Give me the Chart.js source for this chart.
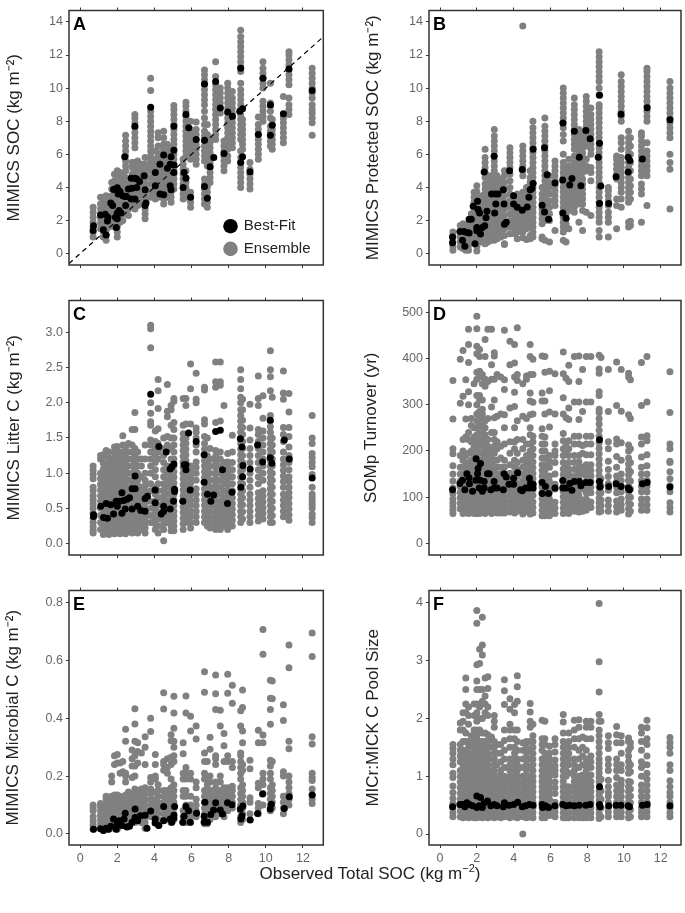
<!DOCTYPE html>
<html>
<head>
<meta charset="utf-8">
<title>MIMICS ensemble</title>
<script src="https://cdn.jsdelivr.net/npm/chart.js@4/dist/chart.umd.min.js"></script>
<style>
    html, body { margin: 0; padding: 0; background: #fff; }
    #page { position: relative; width: 685px; height: 913px; overflow: hidden; }
    canvas { position: absolute; }
    #x-title { position: absolute; left: 170px; width: 400px; top: 864px; text-align: center;
        font: 17px "Liberation Sans", Arial, sans-serif; color: #222; }
    #x-title sup { font-size: 11px; line-height: 0; }
</style>
</head>
<body>
<div id="page">
    <canvas id="panel-a" width="335" height="290" style="left:0;top:0"></canvas>
    <canvas id="panel-b" width="340" height="290" style="left:345px;top:0"></canvas>
    <canvas id="panel-c" width="335" height="290" style="left:0;top:290px"></canvas>
    <canvas id="panel-d" width="340" height="290" style="left:345px;top:290px"></canvas>
    <canvas id="panel-e" width="335" height="290" style="left:0;top:580px"></canvas>
    <canvas id="panel-f" width="340" height="290" style="left:345px;top:580px"></canvas>
    <div id="x-title">Observed Total SOC (kg m<sup>−2</sup>)</div>
</div>
<script>
// observed SOC of each ensemble column, shared by all panels
const ensembleX = [0.7,1.1,1.25,1.4,1.55,1.7,1.85,2.0,2.15,2.3,2.45,2.6,2.8,2.95,3.1,3.3,3.5,3.8,4.05,4.2,4.5,4.7,4.9,5.05,5.55,5.7,5.95,6.25,6.7,6.85,7.0,7.3,7.55,7.75,7.95,8.2,8.65,8.75,9.15,9.6,9.85,10.25,10.35,10.95,11.25,12.5];

const xTicks = [0, 2, 4, 6, 8, 10, 12];
const oneToOne = [[-0.6, -0.6], [13.1, 13.1]];

const bestA = [[0.7,1.4],[0.72,1.68],[1.1,2.33],[1.25,1.44],[1.35,2.37],[1.4,1.12],[1.5,2.2],[1.47,1.97],[1.65,3.05],[1.75,2.9],[1.8,3.88],[1.9,2.2],[1.95,1.58],[2.0,2.45],[2.0,2.1],[2.0,3.98],[2.05,3.6],[2.1,2.6],[2.15,3.75],[2.2,2.45],[2.3,3.5],[2.4,3.45],[2.4,5.85],[2.45,2.9],[2.5,3.45],[2.6,3.9],[2.75,3.3],[2.8,3.95],[2.75,4.55],[2.95,4.55],[2.95,7.7],[2.95,3.3],[3.05,4.0],[3.05,4.5],[3.2,4.35],[3.45,4.7],[3.5,2.9],[3.5,3.85],[3.55,3.05],[3.8,8.85],[4.05,4.9],[4.05,4.1],[4.3,5.4],[4.3,3.6],[4.5,3.55],[4.5,5.95],[4.7,5.15],[4.85,5.4],[4.85,4.1],[4.9,3.85],[4.9,5.85],[5.05,5.35],[5.05,4.9],[5.05,6.25],[5.05,7.7],[5.6,4.9],[5.55,4.0],[5.7,4.55],[5.7,8.4],[5.85,7.6],[5.95,3.4],[6.25,6.9],[6.7,10.25],[6.7,6.85],[6.7,4.05],[6.85,3.35],[7.0,5.25],[7.2,5.8],[7.3,10.4],[7.55,8.8],[7.75,6.05],[7.95,8.55],[8.2,8.3],[8.6,8.6],[8.65,11.2],[8.65,5.5],[8.75,8.75],[8.75,5.85],[9.15,4.95],[9.6,7.2],[9.85,10.6],[10.25,9.0],[10.25,7.15],[10.35,7.75],[10.95,8.45],[11.25,11.15],[12.5,9.85]];
const bestB = [[0.68,1.0],[0.68,0.65],[1.08,1.34],[1.22,0.8],[1.35,0.45],[1.3,1.34],[1.46,1.28],[1.58,1.24],[1.58,2.07],[1.7,2.07],[1.8,2.86],[1.9,0.6],[2,1.38],[2,1.58],[2.04,3.16],[2.07,2.66],[2.15,2.46],[2.2,1.18],[2.3,1.58],[2.4,4.93],[2.43,1.68],[2.5,2.17],[2.55,2.56],[2.8,3.6],[2.94,5.88],[2.97,2.46],[3.03,3.0],[3,3.6],[3.15,3.6],[3.44,3.85],[3.48,3.0],[3.5,1.78],[3.6,1.9],[3.78,5.0],[4,3.5],[4,3.0],[4.2,2.8],[4.47,2.62],[4.47,5.08],[4.74,2.82],[4.83,3.4],[4.9,3.85],[5,3.94],[5.06,4.24],[5.06,6.3],[5.55,2.92],[5.68,2.52],[5.68,6.4],[5.82,4.77],[5.9,2.07],[6.25,4.26],[6.67,4.44],[6.67,2.46],[6.68,7.89],[6.85,2.13],[7.05,4.14],[7.17,4.54],[7.3,7.4],[7.57,5.82],[7.66,4.1],[7.93,7.44],[8.16,6.94],[8.67,9.57],[8.67,6.67],[8.6,5.82],[8.74,4.08],[8.67,3.02],[9.17,3.02],[9.57,4.64],[9.84,8.42],[10.23,4.93],[10.23,5.82],[10.32,5.62],[11,5.72],[11.26,8.82],[12.5,8.09]];
const bestC = [[0.72,0.41],[0.72,0.385],[1.11,0.53],[1.26,0.37],[1.4,0.57],[1.47,0.36],[1.65,0.55],[1.8,0.42],[1.94,0.6],[2,0.53],[2.12,0.6],[2.25,0.72],[2.25,0.43],[2.34,0.61],[2.43,0.49],[2.52,0.63],[2.66,0.65],[2.8,0.49],[2.8,0.78],[2.96,0.78],[2.96,0.96],[3.1,0.53],[3.27,0.47],[3.5,0.46],[3.5,0.64],[3.63,0.67],[3.8,2.12],[4.04,0.76],[4.04,0.58],[4.24,1.38],[4.37,0.42],[4.5,0.53],[4.5,0.46],[4.64,1.3],[4.85,1.06],[4.85,0.49],[4.94,1.09],[5.05,1.13],[5.03,0.6],[5.09,0.77],[5.09,0.74],[5.53,0.6],[5.6,1.12],[5.7,1.12],[5.7,1.05],[5.84,1.57],[5.93,0.76],[6.25,1.45],[6.68,1.26],[6.68,0.87],[6.86,0.7],[7.04,0.6],[7.19,0.69],[7.3,1.59],[7.55,1.61],[7.67,1.05],[7.94,0.57],[8.18,0.73],[8.63,1.49],[8.72,1.37],[8.77,1.11],[8.75,0.95],[8.66,0.8],[9.16,1.06],[9.56,1.4],[9.83,1.16],[10.24,1.75],[10.24,1.22],[10.33,1.14],[11,1.47],[11.27,1.2],[12.5,0.93]];
const bestD = [[0.68,116],[1.08,130],[1.22,137],[1.35,116],[1.46,151],[1.58,142],[1.6,129],[1.77,113],[1.95,137],[1.96,183],[2.07,162],[2.04,151],[2.2,173],[2.18,137],[2.13,120],[2.3,113],[2.4,134],[2.4,120],[2.58,151],[2.67,151],[2.76,116],[2.94,134],[2.94,120],[3.1,120],[3.44,116],[3.48,151],[3.6,144],[3.75,128],[4,141],[4,128],[4.22,153],[4.38,116],[4.47,114],[4.65,120],[4.83,120],[4.86,141],[4.92,130],[5.06,128],[5.06,120],[5.55,132],[5.55,108],[5.73,123],[5.9,108],[6.25,120],[6.67,136],[6.67,120],[6.85,120],[7.05,130],[7.17,115],[7.3,134],[7.57,134],[7.66,125],[7.93,132],[8.16,132],[8.67,224],[8.67,134],[8.7,122],[9.17,123],[9.57,129],[9.84,123],[10.23,120],[10.3,116],[11,129],[11.26,132],[12.5,122]];
const bestE = [[0.72,0.016],[1.1,0.018],[1.26,0.012],[1.4,0.02],[1.53,0.016],[1.65,0.027],[1.8,0.052],[1.94,0.016],[2,0.035],[2.12,0.046],[2.25,0.029],[2.37,0.052],[2.43,0.072],[2.52,0.024],[2.66,0.027],[2.8,0.041],[2.96,0.086],[2.96,0.057],[3.1,0.046],[3.25,0.063],[3.5,0.065],[3.6,0.02],[3.8,0.079],[4.04,0.052],[4.04,0.038],[4.24,0.029],[4.5,0.046],[4.5,0.095],[4.85,0.052],[4.94,0.041],[5.05,0.065],[5.09,0.095],[5.05,0.055],[5.53,0.041],[5.6,0.061],[5.7,0.095],[5.84,0.08],[5.93,0.041],[6.27,0.072],[6.68,0.061],[6.72,0.11],[6.68,0.041],[6.86,0.041],[7.04,0.067],[7.19,0.083],[7.3,0.108],[7.55,0.083],[7.67,0.069],[7.94,0.108],[8.18,0.101],[8.63,0.086],[8.66,0.052],[8.77,0.097],[8.72,0.063],[9.16,0.048],[9.56,0.071],[9.83,0.138],[10.24,0.086],[10.3,0.103],[11,0.088],[11.27,0.129],[12.5,0.135]];
const bestF = [[0.68,0.47],[1.08,0.51],[1.22,0.51],[1.35,0.47],[1.46,0.54],[1.6,0.51],[1.77,0.49],[2,0.66],[2,0.46],[2.13,0.49],[2.2,0.63],[2.3,0.46],[2.4,0.54],[2.58,0.57],[2.76,0.49],[2.94,0.51],[3.1,0.49],[3.44,0.47],[3.5,0.54],[3.75,0.5],[4,0.51],[4.22,0.55],[4.47,0.47],[4.65,0.49],[4.86,0.51],[5.06,0.5],[5.55,0.51],[5.58,0.46],[5.73,0.49],[5.9,0.46],[6.25,0.49],[6.67,0.51],[6.85,0.49],[7.05,0.5],[7.3,0.49],[7.57,0.5],[7.93,0.5],[8.16,0.51],[8.67,0.82],[8.67,0.51],[8.7,0.47],[9.17,0.49],[9.57,0.5],[9.84,0.5],[10.23,0.49],[10.3,0.47],[11,0.5],[11.26,0.51],[12.5,0.49]];

const ensembleA = [
/*0.7*/[1.0,1.3,1.6,1.9,2.2,2.5,2.8],
/*1.1*/[1.5,1.8,2.1,2.4,2.7,3.0,3.4],
/*1.25*/[1.0,1.3,1.6,2.0,2.3,2.6,2.9,3.1,3.4],
/*1.4*/[0.8,1.1,1.4,1.7,2.0,2.3,2.6,2.9,3.2,3.5],
/*1.55*/[1.6,1.9,2.2,2.5,2.8,3.1,3.4],
/*1.7*/[1.7,2.0,2.3,2.6,2.9,3.2,3.5,3.9,4.3],
/*1.85*/[1.6,1.9,2.2,2.5,2.8,3.1,3.4,3.7,4.0,4.4,4.8],
/*2.0*/[1.0,1.3,1.6,1.9,2.2,2.5,2.8,3.1,3.4,3.7,4.0,4.3,4.6,5.0],
/*2.15*/[1.9,2.3,2.7,3.1,3.5,3.9,4.3,4.6,4.9],
/*2.3*/[2.0,2.4,2.8,3.2,3.6,4.0,4.4,4.7],
/*2.45*/[2.4,2.7,3.0,3.3,3.6,3.9,4.2,4.6,5.0,5.3,5.6,5.9,6.2,6.5,6.8,7.15],
/*2.6*/[2.3,2.7,3.1,3.5,3.9,4.2],
/*2.8*/[2.8,3.2,3.6,4.0,4.4,4.8,5.2,5.5],
/*2.95*/[2.7,3.0,3.3,3.6,3.9,4.2,4.5,4.9,5.2,5.5,6.4,6.7,7.0,7.3,7.6,7.9,8.2,8.4],
/*3.1*/[2.9,3.3,3.7,4.1,4.5,4.9,5.3,5.6],
/*3.3*/[3.0,3.4,3.8,4.2,4.6,5.0,5.4],
/*3.5*/[2.1,2.4,2.7,3.0,3.3,3.6,3.9,4.2,4.5,4.8,5.1,5.4,5.8],
/*3.8*/[3.4,3.8,4.2,4.6,5.0,5.3,5.6,5.9,6.2,6.5,6.8,7.1,7.4,7.7,8.0,8.3,8.6,9.85,10.6],
/*4.05*/[3.3,3.6,3.9,4.2,4.5,4.8,5.1,5.4,5.7,6.2],
/*4.2*/[3.4,3.7,4.0,4.3,4.6,4.9,5.2,5.5,5.8,6.1,6.5,7.0,7.3],
/*4.5*/[3.0,3.3,3.6,3.9,4.2,4.5,4.8,5.1,5.4,5.7,6.0,6.3,6.6,7.0,7.4],
/*4.7*/[3.4,3.8,4.2,4.6,5.0,5.4,5.8,6.2,6.6],
/*4.9*/[3.1,3.4,3.7,4.0,4.3,4.6,4.9,5.2,5.5,5.8,6.1,6.4],
/*5.05*/[3.9,4.2,4.5,4.8,5.1,5.4,5.7,6.0,6.3,6.6,6.9,7.2,7.5,7.8,8.1,8.4,8.7,8.95],
/*5.55*/[3.3,3.6,3.9,4.2,4.5,4.8,5.1,5.4,5.7],
/*5.7*/[3.4,3.7,4.0,4.3,4.6,5.0,5.9,6.2,6.5,6.8,7.1,7.4,7.7,8.0,8.3,8.6,8.9,9.15],
/*5.95*/[2.8,3.1,3.4,3.7,5.7,6.0,6.3,6.6,6.9,7.2,7.5,8.0],
/*6.25*/[5.4,5.7,6.0,6.3,6.6,6.9,7.2,7.5,7.95],
/*6.7*/[3.0,3.3,3.6,3.9,4.2,4.5,5.6,5.9,6.2,6.5,6.8,7.1,7.4,7.8,8.2,8.6,9.0,9.3,9.6,9.9,10.2,10.5,10.8,11.1],
/*6.85*/[2.8,3.1,3.4,3.7,4.0,4.2,5.3,5.7,6.1,6.5,6.9,7.2,7.8],
/*7.0*/[4.3,4.6,4.9,5.2,5.5,5.8,6.1,6.4,6.7,7.0],
/*7.3*/[6.9,7.2,7.5,7.8,8.1,8.4,8.7,9.0,9.3,9.6,9.9,10.2,10.7,11.6],
/*7.55*/[8.5,8.8,9.1,9.4,9.7,10.0],
/*7.75*/[5.0,5.3,5.6,5.9,6.2,6.5,6.8],
/*7.95*/[5.6,5.9,6.3,6.7,7.0,7.3,7.6,7.9,8.2,8.5,8.8,9.1,9.4,9.7,10.0,10.3],
/*8.2*/[6.4,6.7,7.0,7.3,7.6,7.9,8.2,8.5,8.8,9.1,9.4,9.8],
/*8.65*/[4.0,4.3,4.6,4.9,5.2,5.5,5.8,6.2,6.9,7.2,7.5,7.8,8.1,8.4,8.7,9.0,9.3,9.6,9.9,10.3,11.0,11.3,11.6,11.9,12.2,12.5,12.8,13.1,13.5],
/*8.75*/[6.3,6.6,6.9,7.2,7.5,7.8,8.1],
/*9.15*/[3.9,4.2,4.5,4.8,5.1,5.5],
/*9.6*/[5.7,6.0,6.3,6.6,6.9,7.2,7.5,7.8,8.25],
/*9.85*/[8.0,8.3,8.6,8.9,9.2,10.0,10.3,10.6,10.9,11.2,11.6],
/*10.25*/[6.5,6.8,7.1,7.4,7.7,8.2,8.6,8.9,9.1,10.3],
/*10.35*/[6.3,6.6,6.9,7.2,7.5,7.8,8.1],
/*10.95*/[6.7,7.0,7.3,7.6,7.9,8.2,8.4,9.5],
/*11.25*/[8.4,8.7,9.0,9.4,10.2,10.5,10.8,11.1,11.4,11.7,12.0,12.2],
/*12.5*/[7.15,7.9,8.2,8.5,8.7,9.0,9.4,9.7,10.0,10.3,10.6,10.9,11.2]
];

const ensembleB = [
/*0.7*/[0.2,0.45,0.7,0.95,1.1,1.3],
/*1.1*/[0.4,0.7,1.0,1.3,1.7],
/*1.25*/[0.3,0.6,0.9,1.2,1.5,1.8],
/*1.4*/[0.2,0.5,0.8,1.1,1.4,1.75],
/*1.55*/[0.2,0.5,0.8,1.1,1.4,1.7],
/*1.7*/[0.9,1.2,1.5,1.8,2.1,2.4],
/*1.85*/[0.7,1.0,1.3,1.6,1.9,2.2,2.5,2.8,3.1,3.4,3.7],
/*2.0*/[0.15,0.45,0.75,1.05,1.35,1.65,1.95,2.25,2.55,2.85,3.15,3.45,3.75,4.1],
/*2.15*/[0.7,1.0,1.3,1.6,1.9,2.2,2.5,2.8,3.1,3.4],
/*2.3*/[0.7,1.0,1.3,1.6,1.9,2.2,2.5,2.8,3.2,3.5],
/*2.45*/[0.6,0.9,1.2,1.5,1.8,2.1,2.4,2.7,3.0,3.3,3.6,3.9,4.2,4.6,4.9,5.2,5.5,5.8,6.3],
/*2.6*/[0.7,1.0,1.3,1.6,1.9,2.2,2.5,2.8,3.1,3.4,3.7,4.0,4.3,4.7],
/*2.8*/[0.8,1.1,1.4,1.7,2.0,2.3,2.6,2.9,3.2,3.5,3.8,4.1,4.4,4.7],
/*2.95*/[0.8,1.1,1.4,1.7,2.0,2.3,2.6,2.9,3.2,3.5,3.8,4.1,4.4,4.7,5.0,5.3,5.6,5.9,6.2,6.5,6.8,7.1,7.5],
/*3.1*/[0.9,1.3,1.7,2.1,2.5,2.9,3.3,3.7,4.1,4.4,4.7],
/*3.3*/[1.0,1.4,1.8,2.2,2.6,3.0,3.4,3.8,4.2,4.5],
/*3.5*/[0.55,0.6,1.1,1.5,1.9,2.3,2.7,3.1,3.5,3.9,4.3,4.7,5.0],
/*3.8*/[1.2,1.6,2.0,2.4,2.8,3.2,3.6,4.0,4.4,4.8,5.2,5.5,5.8,6.1,6.4],
/*4.05*/[1.2,1.5,1.8,2.1,2.4,2.7,3.0,3.3,3.5],
/*4.2*/[0.9,1.3,1.6,1.9,2.2,2.5,2.8,3.1,3.4,3.6],
/*4.5*/[0.95,1.3,1.6,1.9,2.2,2.5,2.8,3.1,3.4,3.7,4.7,5.0,5.3,5.6,5.9,6.2,6.5,13.75],
/*4.7*/[0.85,1.5,1.8,2.1,2.4,2.7,3.0,3.3,3.6,4.0],
/*4.9*/[0.9,1.1,1.6,1.9,2.2,2.5,2.8,3.1,3.4,3.7,4.0,4.3,4.6,5.0],
/*5.05*/[1.0,1.3,1.6,1.9,2.2,2.5,2.8,3.1,3.4,3.7,4.0,4.3,4.6,4.9,5.2,5.5,5.8,6.1,6.4,6.7,7.0,7.3,7.6,8.0],
/*5.55*/[0.9,1.0,1.8,2.1,2.4,2.7,3.0,3.3,3.6,4.0],
/*5.7*/[0.8,2.0,2.3,2.6,2.9,3.2,3.5,3.8,4.1,4.4,4.7,5.0,5.3,5.6,5.9,6.2,6.5,6.8,7.1,7.4,7.7,8.2],
/*5.95*/[0.7,2.0,2.4,2.8,3.2,3.6,4.0,4.3,4.7],
/*6.25*/[1.4,2.9,3.2,3.5,3.8,4.1,4.4,4.7,5.0,5.3,5.6],
/*6.7*/[0.8,1.3,1.6,1.9,2.2,2.5,2.8,3.1,3.4,3.7,4.0,4.3,4.6,4.9,5.2,5.5,6.0,6.8,7.2,7.6,7.9,8.2,8.5,8.8,9.1,9.4,9.7,10.0],
/*6.85*/[0.7,1.5,1.8,2.1,2.4,2.7,3.0],
/*7.0*/[1.5,2.6,2.9,3.2,3.5,3.8,4.1,4.4,4.7,5.0,5.3,5.7],
/*7.3*/[2.5,2.8,3.1,3.4,3.7,4.0,4.3,4.6,4.9,5.2,5.5,5.9,6.3,6.6,6.9,7.2,7.5,7.8,8.1,8.4,8.7,9.0,9.4],
/*7.55*/[1.9,3.0,3.3,3.6,3.9,4.2,4.5,4.8,5.1,5.4,5.7,6.0,6.3,6.6,6.9,7.2,7.5],
/*7.75*/[1.4,2.6,3.0,3.3,3.6,3.9,4.2,4.5,4.9,5.2,5.5,5.8,6.1,6.4,6.7,7.0,7.4],
/*7.95*/[2.5,5.0,5.3,5.7,6.5,6.8,7.1,7.4,7.7,8.0,8.3,8.6,8.9,9.2,9.5],
/*8.2*/[2.3,4.4,4.9,5.2,6.0,6.3,6.6,6.9,7.2,7.5,7.8,8.1,8.4,8.8],
/*8.65*/[1.0,1.4,1.9,2.2,2.5,2.8,3.1,3.4,3.7,4.0,4.3,4.6,4.9,5.2,5.5,5.8,6.1,6.4,6.7,7.0,7.3,7.6,7.9,8.2,8.5,8.8,9.0,9.6,10.0,10.4,10.7,11.0,11.3,11.6,11.9,12.2],
/*8.75*/[],
/*9.15*/[1.0,1.9,2.2,2.5,2.9,3.2,3.5,3.8,4.0],
/*9.6*/[1.5,2.9,3.3,4.5,4.8,5.1,5.4,5.7,5.9],
/*9.85*/[2.8,3.3,3.7,4.0,4.3,4.6,4.9,5.2,5.5,5.8,6.3,6.7,7.0,8.0,8.3,8.6,8.9,9.2,9.5,9.8,10.1,10.4,10.8],
/*10.25*/[1.6,1.9,3.1,3.4,3.7,4.0,4.3,4.6,4.9,5.2,5.5,5.8,6.1,6.4,6.7,7.0,7.4],
/*10.35*/[1.7,1.95,3.3,3.7,4.1,4.5,5.0,5.5,6.0,6.5,7.0],
/*10.95*/[1.9,3.6,3.9,4.2,4.7,5.0,5.3,5.6,5.9,6.2,6.5,6.8,7.1,7.3],
/*11.25*/[2.9,4.7,5.0,5.3,5.6,5.9,6.2,6.7,8.0,8.3,8.6,8.9,9.2,9.5,9.8,10.1,10.4,10.7,11.0,11.2],
/*12.5*/[2.7,5.1,5.5,6.0,7.0,7.3,7.6,7.9,8.2,8.5,8.8,9.1,9.4,9.7,10.0,10.4]
];

const ensembleC = [
/*0.7*/[0.15,0.19,0.24,0.3,0.36,0.43,0.5,0.56,0.62,0.68,0.75,0.8,0.92,0.98,1.04,1.1],
/*1.1*/[0.2,0.3,0.4,0.5,0.6,0.68,0.76,0.84,0.92,1.0,1.2,1.25],
/*1.25*/[0.13,0.2,0.27,0.34,0.42,0.5,0.58,0.66,0.74,0.82,0.9,0.98,1.06,1.14,1.22,1.26],
/*1.4*/[0.25,0.35,0.45,0.55,0.65,0.75,0.85,0.95,1.1,1.32],
/*1.55*/[0.13,0.2,0.27,0.34,0.42,0.5,0.58,0.66,0.74,0.82,0.9,0.98,1.06,1.14,1.22,1.3],
/*1.7*/[0.3,0.4,0.5,0.6,0.7,0.8,0.9,1.0,1.1,1.2],
/*1.85*/[0.14,0.21,0.28,0.35,0.42,0.5,0.58,0.66,0.74,0.82,0.9,0.98,1.06,1.14,1.22,1.3,1.37],
/*2.0*/[0.2,0.3,0.4,0.5,0.6,0.7,0.8,0.9,1.0,1.1,1.2,1.3,1.38],
/*2.15*/[0.14,0.21,0.28,0.35,0.42,0.5,0.58,0.66,0.74,0.82,0.9,0.98,1.06,1.14,1.22,1.3],
/*2.3*/[0.2,0.3,0.4,0.5,0.6,0.7,0.8,0.9,1.0,1.1,1.2,1.3,1.4,1.53],
/*2.45*/[0.14,0.21,0.28,0.35,0.42,0.5,0.58,0.66,0.74,0.82,0.9,0.98,1.06,1.14,1.22,1.3,1.38],
/*2.6*/[0.2,0.3,0.4,0.5,0.6,0.7,0.8,0.9,1.0,1.1,1.2,1.3,1.42],
/*2.8*/[0.15,0.22,0.29,0.36,0.43,0.5,0.58,0.66,0.74,0.82,0.9,1.0,1.1,1.2,1.3,1.4,1.62],
/*2.95*/[0.2,0.3,0.4,0.5,0.6,0.7,0.85,0.95,1.05,1.15,1.25,1.35,1.62,1.86],
/*3.1*/[0.15,0.22,0.29,0.36,0.43,0.5,0.58,0.66,0.74,0.82,0.9,1.0,1.1,1.2,1.3],
/*3.3*/[0.2,0.3,0.4,0.5,0.6,0.7,0.8,0.95,1.1,1.2],
/*3.5*/[0.15,0.22,0.29,0.36,0.43,0.5,0.58,0.66,0.74,0.82,0.9,1.0,1.2,1.4],
/*3.8*/[0.3,0.4,0.5,0.6,0.75,0.85,1.0,1.1,1.2,1.3,1.4,1.47,1.68,1.73,1.85,2.0,2.78,3.05,3.1],
/*4.05*/[0.2,0.28,0.36,0.44,0.52,0.6,0.7,0.8,0.95,1.05,1.15,1.25,1.35,1.45,1.6],
/*4.2*/[0.15,0.25,0.35,0.45,0.55,0.65,0.75,0.85,1.2,1.3,1.42,1.63,1.92,2.17,2.33],
/*4.5*/[0.04,0.2,0.28,0.36,0.44,0.52,0.6,0.68,0.76,0.85,0.95,1.05,1.15,1.25,1.35,1.5],
/*4.7*/[0.3,0.4,0.5,0.6,0.7,0.8,0.9,1.0,1.1,1.4,1.52,1.8,1.88,2.26],
/*4.9*/[0.18,0.25,0.32,0.39,0.46,0.54,0.62,0.7,0.78,0.86,0.94,1.2,1.35,1.5,1.68,1.9,1.96],
/*5.05*/[0.18,0.25,0.32,0.39,0.46,0.54,0.62,0.7,0.78,0.86,0.94,1.02,1.1,1.2,1.3,1.4,1.5,1.62,1.72,2.02,2.06],
/*5.55*/[0.2,0.28,0.36,0.44,0.52,0.6,0.68,0.76,0.84,0.92,1.0,1.08,1.16,1.24,1.32,1.4,1.48,1.56,1.68,2.06],
/*5.7*/[0.3,0.38,0.46,0.54,0.62,0.7,0.78,0.86,0.94,1.02,1.1,1.18,1.26,1.34,1.42,1.5,1.7,1.96,2.06],
/*5.95*/[0.22,0.3,0.38,0.46,0.54,0.62,0.7,0.78,0.86,0.94,1.02,1.1,1.7,2.2,2.55],
/*6.25*/[0.3,0.38,0.46,0.54,0.62,0.7,0.78,0.9,1.0,1.08,1.16,1.3,1.4,1.5,1.58,1.64,2.0,2.05,2.42],
/*6.7*/[0.3,0.38,0.46,0.54,0.62,0.7,0.78,0.94,1.02,1.1,1.18,1.34,1.42,1.52,1.7,1.76,2.18,2.22],
/*6.85*/[0.25,0.33,0.41,0.49,0.57,0.65,0.75,0.85,0.95,1.05,1.15,1.25,1.5],
/*7.0*/[0.22,0.3,0.38,0.46,0.54,0.62,0.72,0.8,0.9,1.0,1.1,1.2,1.35],
/*7.3*/[0.2,0.28,0.36,0.44,0.52,0.6,0.68,0.76,0.84,0.92,1.0,1.08,1.16,1.24,1.32,1.72,2.22,2.3,2.58],
/*7.55*/[0.2,0.28,0.36,0.44,0.52,0.6,0.7,0.8,0.9,1.0,1.1,1.2,1.3,1.74,2.25,2.3,2.58],
/*7.75*/[0.25,0.33,0.41,0.49,0.57,0.65,0.75,0.85,0.95,1.15,1.96],
/*7.95*/[0.2,0.28,0.36,0.44,0.52,0.6,0.68,0.76,0.84,0.92,1.0,1.08,1.16,1.28],
/*8.2*/[0.25,0.33,0.41,0.49,0.57,0.65,0.75,0.85,0.95,1.05,1.15,1.3,1.54],
/*8.65*/[0.3,0.38,0.46,0.54,0.62,0.7,0.78,0.86,0.94,1.02,1.1,1.18,1.26,1.34,1.42,1.5,1.58,1.66,1.74,1.82,1.9,2.0,2.08,2.2,2.33,2.47],
/*8.75*/[0.35,0.45,0.55,0.65,0.75,0.85,0.95,1.05,1.15,1.25,1.35,1.45,1.55,1.65,1.75,1.9,2.05],
/*9.15*/[0.3,0.38,0.46,0.54,0.62,0.7,0.8,0.9,1.0,1.15,1.25,1.35,1.47,1.64,1.98],
/*9.6*/[0.32,0.4,0.48,0.56,0.64,0.72,0.85,0.95,1.05,1.15,1.25,1.35,1.45,1.55,1.62,1.96,2.06,2.38],
/*9.85*/[0.35,0.43,0.51,0.59,0.67,0.75,0.9,1.0,1.1,1.2,1.3,1.4,1.5,1.6,1.78,2.1],
/*10.25*/[0.3,0.38,0.46,0.54,0.62,0.7,0.78,0.86,0.94,1.02,1.1,1.18,1.26,1.34,1.42,1.5,1.58,1.66,1.74,1.82,2.17,2.37,2.47,2.74],
/*10.35*/[0.3,0.4,0.5,0.6,0.7,0.8,0.9,1.0,1.1,1.2,1.3,1.4,1.5,2.08],
/*10.95*/[0.38,0.46,0.54,0.62,0.7,0.8,0.88,0.96,1.04,1.12,1.2,1.3,1.45,1.55,1.65,2.05,2.14,2.45],
/*11.25*/[0.33,0.41,0.49,0.57,0.65,0.72,0.8,0.88,0.95,1.05,1.15,1.25,1.37,1.52,1.65,1.87,2.13],
/*12.5*/[0.3,0.37,0.42,0.5,0.55,0.6,0.65,0.7,0.8,0.98,1.09,1.15,1.22,1.28,1.42,1.5,1.82]
];

const ensembleD = [
/*0.7*/[65,72,80,88,96,108,120,135,150,168,194,205,269,352],
/*1.1*/[75,87,99,111,123,135,150,165,190,303,398],
/*1.25*/[65,78,90,102,114,126,138,150,165,180,200,225,318,417],
/*1.4*/[70,82,94,106,118,130,142,154,170,190,230,269,354],
/*1.55*/[65,77,89,101,113,125,137,149,161,175,195,225,240,300,328,391,430,463],
/*1.7*/[70,82,94,106,118,130,142,154,166,180,200,220,255,270],
/*1.85*/[65,77,89,101,113,125,137,149,161,175,190,210,230,250,345],
/*2.0*/[65,75,85,95,105,115,125,135,145,155,165,175,190,205,220,235,250,265,280,300,320,355,370,410,426,464,491],
/*2.15*/[65,78,90,102,114,126,138,150,165,180,195,210,225,240,255,270,285,310,320,360,372,404,419],
/*2.3*/[70,82,94,106,118,130,142,154,166,180,195,210,225,240,255,270,280,290,310,345,365],
/*2.45*/[65,77,89,101,113,125,137,149,161,175,190,205,220,235,250,265,340,355,404,441],
/*2.6*/[70,82,94,106,118,130,142,154,166,180,195,210,225,270,350,463],
/*2.8*/[65,77,89,101,113,125,137,149,161,175,190,205,240,295,355,386,463],
/*2.95*/[70,82,94,106,118,130,142,154,166,180,195,210,225,240,272,310,355,405,412],
/*3.1*/[66,78,90,102,114,126,138,150,165,180,205,220,275,365],
/*3.3*/[66,78,90,102,114,126,138,150,165,185,210,280,360],
/*3.5*/[66,78,90,102,114,126,138,150,165,180,215,250,278,333,354,461],
/*3.8*/[68,80,92,104,116,128,140,152,170,195,220,293,386,437],
/*4.05*/[66,78,90,102,114,126,138,150,165,180,205,220,250,296,327,360,390,430],
/*4.2*/[70,82,94,106,118,130,145,160,175,195,225,265,352,365,466],
/*4.5*/[64,76,88,100,112,124,136,150,165,180,205,225,275,345],
/*4.7*/[70,82,94,106,118,130,145,160,175,190,215,270,355,362],
/*4.9*/[64,76,88,100,112,124,136,148,160,172,185,200,215,235,250,278,308,325,365,404,430],
/*5.05*/[66,78,90,104,116,128,140,152,164,176,190,205,220,232,280,305,365,398],
/*5.55*/[60,72,84,96,110,122,134,146,158,170,185,200,215,232,248,308,325,405],
/*5.7*/[60,72,84,96,110,122,134,146,158,170,185,200,215,230,280,308,370,404],
/*5.95*/[60,72,84,96,110,122,134,146,165,178,190,252,284,330,372],
/*6.25*/[65,77,89,118,128,150,175,190,200,215,280,367],
/*6.7*/[65,77,89,101,113,125,137,149,161,175,190,205,222,238,280,315,367,414],
/*6.85*/[68,80,92,104,116,128,140,155,170,200,215,272,357],
/*7.0*/[65,77,89,101,113,125,137,149,161,175,190,205,222,268,293,350,385],
/*7.3*/[70,82,94,106,118,130,145,160,175,190,215,232,306,404],
/*7.55*/[68,80,92,104,116,128,140,152,164,176,190,215,232,268,306,350,405],
/*7.75*/[70,82,94,118,130,150,165,195,212,285,376],
/*7.95*/[72,84,96,110,122,134,146,158,170,192,215,232,306,404],
/*8.2*/[78,90,110,122,134,146,158,170,192,215,232,306,404],
/*8.65*/[68,78,88,98,110,122,134,146,158,170,182,194,206,218,232,245,258,270,283,290,320,328,368,377,407],
/*8.75*/[70,82,94,110,125,140,402],
/*9.15*/[70,82,94,115,130,145,160,178,205,220,285,376],
/*9.6*/[68,80,92,110,122,134,146,165,188,215,226,298,392],
/*9.85*/[72,84,96,112,124,136,150,180,218,286,376],
/*10.25*/[64,76,88,100,112,124,136,148,160,172,185,200,213,278,360,368],
/*10.35*/[70,85,100,118,135,155,175,205,270,354],
/*10.95*/[72,84,96,112,124,136,150,165,187,215,230,298,391],
/*11.25*/[72,84,96,112,124,136,150,168,192,222,233,306,404],
/*12.5*/[68,78,88,112,125,140,155,175,178,205,215,283,371]
];

const ensembleE = [
/*0.7*/[0.016,0.03,0.045,0.06,0.08,0.09,0.1],
/*1.1*/[0.02,0.035,0.05,0.065,0.08,0.095,0.105],
/*1.25*/[0.012,0.028,0.044,0.06,0.076,0.09],
/*1.4*/[0.02,0.04,0.06,0.08,0.1,0.12,0.13],
/*1.55*/[0.016,0.034,0.052,0.07,0.088,0.105,0.125],
/*1.7*/[0.03,0.05,0.07,0.09,0.11,0.13,0.18,0.2],
/*1.85*/[0.02,0.04,0.06,0.08,0.1,0.12,0.135,0.24,0.27],
/*2.0*/[0.016,0.035,0.055,0.075,0.095,0.115,0.135,0.245,0.275],
/*2.15*/[0.03,0.05,0.07,0.09,0.11,0.13,0.21,0.245],
/*2.3*/[0.03,0.05,0.07,0.09,0.11,0.125,0.215,0.25],
/*2.45*/[0.03,0.05,0.07,0.09,0.11,0.135,0.18,0.2,0.21,0.32,0.362],
/*2.6*/[0.03,0.05,0.07,0.09,0.11,0.13,0.145],
/*2.8*/[0.04,0.06,0.08,0.1,0.12,0.14,0.195,0.235,0.26,0.29],
/*2.95*/[0.04,0.06,0.08,0.1,0.12,0.14,0.155,0.2,0.235,0.27,0.32,0.38,0.433],
/*3.1*/[0.05,0.07,0.09,0.11,0.13,0.15,0.245,0.285,0.315],
/*3.3*/[0.04,0.06,0.08,0.1,0.12,0.14,0.155,0.28],
/*3.5*/[0.02,0.04,0.06,0.08,0.1,0.12,0.14,0.16,0.24,0.3,0.336],
/*3.8*/[0.06,0.08,0.1,0.12,0.14,0.155,0.18,0.195,0.354,0.4],
/*4.05*/[0.04,0.06,0.08,0.1,0.12,0.145,0.19,0.2,0.24,0.275],
/*4.2*/[0.03,0.05,0.07,0.09,0.11,0.13,0.15,0.17],
/*4.5*/[0.05,0.07,0.09,0.11,0.13,0.15,0.22,0.24,0.25,0.432,0.488],
/*4.7*/[0.05,0.07,0.09,0.11,0.13,0.15,0.21,0.23,0.26],
/*4.9*/[0.04,0.06,0.08,0.1,0.12,0.14,0.16,0.19,0.24,0.265,0.322,0.343],
/*5.05*/[0.05,0.07,0.09,0.11,0.13,0.15,0.17,0.25,0.27,0.3,0.32,0.365,0.418,0.476],
/*5.55*/[0.04,0.06,0.08,0.13,0.15,0.19,0.21,0.277,0.315],
/*5.7*/[0.04,0.06,0.08,0.1,0.13,0.15,0.19,0.21,0.23,0.418,0.477],
/*5.95*/[0.04,0.06,0.08,0.1,0.13,0.19,0.21,0.356,0.407],
/*6.25*/[0.06,0.08,0.1,0.12,0.16,0.18,0.328,0.373],
/*6.7*/[0.035,0.05,0.07,0.09,0.11,0.13,0.15,0.19,0.21,0.25,0.28,0.49,0.56],
/*6.85*/[0.035,0.055,0.08,0.1,0.12,0.15,0.17,0.195,0.25],
/*7.0*/[0.05,0.07,0.09,0.11,0.13,0.15,0.18,0.2,0.293,0.334],
/*7.3*/[0.06,0.08,0.1,0.12,0.14,0.16,0.18,0.24,0.26,0.27,0.43,0.484,0.549],
/*7.55*/[0.07,0.09,0.11,0.13,0.15,0.18,0.2,0.373,0.427],
/*7.75*/[0.06,0.08,0.1,0.12,0.14,0.16,0.25,0.305,0.347],
/*7.95*/[0.08,0.1,0.12,0.14,0.16,0.25,0.27,0.486,0.552],
/*8.2*/[0.09,0.11,0.13,0.15,0.165,0.23,0.25,0.452,0.514],
/*8.65*/[0.04,0.06,0.08,0.1,0.12,0.14,0.16,0.19,0.21,0.23,0.25,0.27,0.28,0.373,0.426],
/*8.75*/[0.05,0.07,0.09,0.11,0.13,0.15,0.17,0.22,0.24,0.315,0.356,0.437,0.497],
/*9.15*/[0.05,0.07,0.11,0.125,0.225,0.255],
/*9.6*/[0.07,0.09,0.105,0.16,0.175,0.315,0.358],
/*9.85*/[0.1,0.14,0.17,0.19,0.21,0.315,0.342,0.621,0.706],
/*10.25*/[0.08,0.1,0.12,0.14,0.16,0.19,0.21,0.235,0.255,0.379,0.43,0.469,0.531],
/*10.35*/[0.09,0.11,0.13,0.15,0.17,0.25,0.467,0.528],
/*10.95*/[0.07,0.09,0.11,0.13,0.2,0.215,0.392,0.446],
/*11.25*/[0.1,0.12,0.14,0.16,0.18,0.2,0.294,0.32,0.574,0.653],
/*12.5*/[0.105,0.12,0.135,0.155,0.185,0.195,0.21,0.311,0.336,0.613,0.694]
];

const ensembleF = [
/*0.7*/[0.3,0.37,0.45,0.53,0.62,0.72,0.83,0.98,1.05,1.2,1.3,1.4,1.48,1.55],
/*1.1*/[0.3,0.4,0.5,0.6,0.7,0.8,0.9,1.0,1.1,1.25,1.35,1.45,1.55,1.8,1.92],
/*1.25*/[0.28,0.37,0.46,0.55,0.64,0.73,0.82,0.91,1.0,1.1,1.2,1.3,1.45,1.6,1.8,1.95,2.1],
/*1.4*/[0.3,0.4,0.5,0.6,0.7,0.8,0.9,1.0,1.2,1.4,1.6,1.75,2.1,2.25,2.5,2.7],
/*1.55*/[0.28,0.37,0.46,0.55,0.64,0.73,0.82,0.91,1.0,1.1,1.2,1.3,1.4,1.5,1.6,1.9,2.05,2.2],
/*1.7*/[0.3,0.4,0.5,0.6,0.7,0.8,0.9,1.0,1.1,1.3,1.5,1.7],
/*1.85*/[0.28,0.37,0.46,0.55,0.64,0.73,0.82,0.91,1.0,1.1,1.2,1.3,1.4,1.5,1.6,1.7,1.8,2.05,2.25],
/*2.0*/[0.28,0.36,0.44,0.52,0.6,0.68,0.76,0.84,0.92,1.0,1.1,1.2,1.3,1.4,1.5,1.6,1.7,1.8,1.95,2.1,2.25,2.5,2.65,2.93,3.65,3.87],
/*2.15*/[0.3,0.4,0.5,0.6,0.7,0.8,0.9,1.0,1.2,1.4,1.6,1.8,2.0,2.2,2.5,2.95,3.2],
/*2.3*/[0.28,0.37,0.46,0.55,0.64,0.73,0.82,0.91,1.0,1.1,1.2,1.3,1.4,1.5,1.6,1.75,2.0,2.3,2.5,3.1,3.27,3.75],
/*2.45*/[0.3,0.4,0.5,0.6,0.7,0.8,0.9,1.0,1.15,1.3,1.45,1.6,1.75,2.1,2.25,2.39,2.7],
/*2.6*/[0.28,0.37,0.46,0.55,0.64,0.73,0.82,0.91,1.0,1.1,1.2,1.3,1.4,1.5,1.6,1.72,2.05,2.2,2.52,2.72],
/*2.8*/[0.3,0.4,0.5,0.6,0.7,0.8,0.9,1.0,1.1,1.3,1.5,1.68],
/*2.95*/[0.28,0.37,0.46,0.55,0.64,0.73,0.82,0.91,1.0,1.1,1.2,1.3,1.4,1.5,1.6,1.85,1.95,2.05],
/*3.1*/[0.3,0.4,0.5,0.6,0.7,0.8,0.9,1.0,1.2,1.4,1.55],
/*3.3*/[0.28,0.37,0.46,0.55,0.64,0.73,0.82,0.91,1.0,1.1,1.25,1.4,1.55],
/*3.5*/[0.3,0.4,0.5,0.6,0.7,0.8,0.9,1.0,1.15,1.3,1.45,1.62,1.8,2.24,2.48,2.67],
/*3.8*/[0.28,0.37,0.46,0.55,0.64,0.73,0.82,0.91,1.0,1.1,1.2,1.3,1.5,1.65,1.8,1.9,2.16,2.34],
/*4.05*/[0.3,0.4,0.5,0.6,0.7,0.8,0.9,1.0,1.1,1.2,1.3,1.4,1.5,1.65,1.8,2.1,2.24],
/*4.2*/[0.28,0.37,0.46,0.55,0.64,0.73,0.82,0.91,1.0,1.1,1.2,1.3,1.45,1.6,1.8,2.3,2.55,2.74],
/*4.5*/[0,0.3,0.4,0.5,0.6,0.7,0.8,0.9,1.0,1.15,1.3,1.45,1.58],
/*4.7*/[0.28,0.37,0.46,0.55,0.64,0.73,0.82,0.91,1.0,1.1,1.2,1.3,1.4,1.5,1.6],
/*4.9*/[0.3,0.4,0.5,0.6,0.7,0.8,0.9,1.0,1.15,1.3,1.45,1.6,1.85,1.95,2.11,2.26],
/*5.05*/[0.28,0.37,0.46,0.55,0.64,0.73,0.82,0.91,1.0,1.1,1.2,1.3,1.4,1.5,1.6,1.7,1.9],
/*5.55*/[0.28,0.37,0.46,0.55,0.64,0.73,0.82,0.91,1.0,1.1,1.2,1.3,1.45,1.55,1.65,1.97],
/*5.7*/[0.28,0.37,0.46,0.55,0.64,0.73,0.82,0.91,1.0,1.1,1.2,1.3,1.4,1.55,1.65,1.95],
/*5.95*/[0.32,0.4,0.5,0.6,0.7,0.8,0.9,1.0,1.1,1.2,1.3,1.4,1.52],
/*6.25*/[0.3,0.38,0.46,0.55,0.7,0.8,0.9,1.02,1.1,1.18,1.28,1.42,1.55,1.65],
/*6.7*/[0.28,0.37,0.46,0.55,0.64,0.73,0.82,0.91,1.0,1.1,1.2,1.3,1.4,1.5,1.6,1.75,1.94,2.07],
/*6.85*/[0.28,0.37,0.46,0.55,0.64,0.73,0.82,1.0,1.1,1.2,1.3,1.4,1.5],
/*7.0*/[0.28,0.37,0.46,0.55,0.64,0.73,0.82,1.05,1.2,1.3,1.4,1.5,1.6,1.75],
/*7.3*/[0.28,0.37,0.46,0.55,0.64,0.73,0.82,0.91,1.0,1.1,1.2,1.3,1.5,1.65,1.8,1.97],
/*7.55*/[0.28,0.37,0.46,0.55,0.64,0.73,0.82,0.91,1.0,1.15,1.3,1.45,1.65,1.85,1.98],
/*7.75*/[0.28,0.37,0.46,0.55,0.64,0.73,0.82,0.91,1.02,1.2,1.35,1.5,1.68],
/*7.95*/[0.28,0.37,0.46,0.55,0.64,0.73,0.82,0.91,1.0,1.1,1.2,1.3,1.45,1.65,1.85,1.95],
/*8.2*/[0.28,0.37,0.46,0.55,0.64,0.73,0.82,0.91,1.02,1.15,1.25,1.35,1.65,1.85,1.95],
/*8.65*/[0.27,0.35,0.43,0.51,0.59,0.67,0.75,0.9,0.98,1.06,1.14,1.22,1.3,1.4,1.5,1.6,1.7,1.8,1.95,2.07,2.46,2.98,3.99],
/*8.75*/[0.3,0.45,0.6,0.75,0.95,1.95],
/*9.15*/[0.3,0.38,0.46,0.55,0.65,0.72,0.82,0.93,1.1,1.2,1.3,1.48,1.58,1.7],
/*9.6*/[0.3,0.38,0.46,0.55,0.65,0.75,0.85,0.98,1.1,1.2,1.3,1.58,1.72,1.86],
/*9.85*/[0.3,0.38,0.46,0.55,0.65,0.75,0.85,0.93,1.1,1.2,1.4,1.58,1.7],
/*10.25*/[0.28,0.37,0.46,0.55,0.64,0.73,0.82,0.91,1.05,1.15,1.25,1.35,1.45,1.6,1.66],
/*10.35*/[0.3,0.42,0.54,0.66,0.78,0.9,1.08,1.2,1.5,1.58],
/*10.95*/[0.3,0.38,0.46,0.55,0.65,0.75,0.85,1.0,1.15,1.25,1.45,1.6,1.75,1.85],
/*11.25*/[0.3,0.38,0.46,0.55,0.65,0.75,0.85,0.95,1.05,1.2,1.35,1.55,1.65,1.84,1.97],
/*12.5*/[0.3,0.37,0.45,0.55,0.65,0.72,0.82,0.92,1.1,1.2,1.4,1.5,1.58,1.67]
];

function toPoints(pairs) {
    return pairs.map(p => ({ x: p[0], y: p[1] }));
}

function columnsToPoints(columns) {
    const points = [];
    columns.forEach((ys, i) => {
        ys.forEach(y => points.push({ x: ensembleX[i], y: y }));
    });
    return points;
}

// border box and panel letter, drawn over the marks
const frameAndLetter = {
    id: "frameAndLetter",
    afterDraw(chart, args, opts) {
        const { ctx, chartArea: a } = chart;
        ctx.save();
        ctx.strokeStyle = "#333";
        ctx.lineWidth = 1.5;
        ctx.strokeRect(a.left, a.top, a.right - a.left, a.bottom - a.top);
        ctx.fillStyle = "#000";
        ctx.font = 'bold 18px "Liberation Sans", Arial, sans-serif';
        ctx.textBaseline = "middle";
        ctx.fillText(opts.letter, a.left + 4, a.top + 15);
        ctx.restore();
    },
};

// the legend sits inside panel A, so it is moved once layout is done
const legendPlace = {
    id: "legendPlace",
    afterLayout(chart) {
        if (chart.legend && chart.legend.options.display) {
            chart.legend.left = 217;
            chart.legend.top = 211;
            // keep both rows in one column
            chart.legend.bottom = chart.height;
            chart.legend.adjustHitBoxes();
        }
    },
};

function makePanel(cfg) {
    const xBase = {
        type: "linear",
        min: -0.6,
        max: 13.1,
        afterBuildTicks: s => { s.ticks = xTicks.map(v => ({ value: v })); },
        border: { display: false },
        grid: { drawOnChartArea: false, tickLength: 3, color: "#333", lineWidth: 1 },
    };
    const datasets = [
        {
            label: "Best-Fit",
            data: toPoints(cfg.best),
            backgroundColor: "#000",
            borderWidth: 0,
            pointStyle: "circle",
            pointRadius: 3.5,
        },
    ];
    if (cfg.line) {
        datasets.push({
            label: "1:1",
            data: toPoints(cfg.line),
            showLine: true,
            pointRadius: 0,
            borderColor: "#000",
            borderWidth: 1.2,
            borderDash: [5, 4],
        });
    }
    datasets.push({
        label: "Ensemble",
        data: columnsToPoints(cfg.ensemble),
        backgroundColor: "#808080",
        borderWidth: 0,
        pointStyle: "circle",
        pointRadius: 3.5,
    });

    return new Chart(document.getElementById(cfg.id), {
        type: "scatter",
        data: { datasets: datasets },
        plugins: [frameAndLetter, legendPlace],
        options: {
            responsive: false,
            animation: false,
            devicePixelRatio: 1,
            layout: { padding: { left: 0, top: 0, bottom: 0, right: cfg.padRight } },
            plugins: {
                tooltip: { enabled: false },
                frameAndLetter: { letter: cfg.letter },
                legend: {
                    display: !!cfg.legend,
                    position: "chartArea",
                    align: "start",
                    labels: {
                        usePointStyle: true,
                        boxWidth: 11.6,
                        boxHeight: 10.3,
                        padding: 7.7,
                        color: "#222",
                        font: { family: '"Liberation Sans", Arial, sans-serif', size: 15 },
                        filter: item => item.text !== "1:1",
                    },
                },
            },
            scales: {
                x: Object.assign({}, xBase, {
                    position: "bottom",
                    afterFit: s => { s.height = 25; },
                    ticks: {
                        display: !!cfg.xLabels,
                        autoSkip: false,
                        maxRotation: 0,
                        padding: 3,
                        color: "#666",
                        font: { family: '"Liberation Sans", Arial, sans-serif', size: 12.5 },
                    },
                }),
                xTop: Object.assign({}, xBase, {
                    position: "top",
                    afterFit: s => { s.height = 5; },
                    ticks: { display: false },
                }),
                y: {
                    min: cfg.yMin,
                    max: cfg.yMax,
                    afterFit: s => { s.width = cfg.yWidth; },
                    border: { display: false },
                    grid: { drawOnChartArea: false, tickLength: 3, color: "#333", lineWidth: 1 },
                    ticks: {
                        stepSize: cfg.yStep,
                        includeBounds: false,
                        padding: 3,
                        color: "#666",
                        font: { family: '"Liberation Sans", Arial, sans-serif', size: 12.5 },
                        callback: v => v.toFixed(cfg.yDigits),
                    },
                    title: {
                        display: true,
                        text: cfg.yTitle,
                        color: "#222",
                        padding: { top: cfg.titleTop, bottom: 0 },
                        font: { family: '"Liberation Sans", Arial, sans-serif', size: 17 },
                    },
                },
            },
        },
    });
}

makePanel({ id: "panel-a", letter: "A", best: bestA, ensemble: ensembleA, line: oneToOne, legend: true,
    yMin: -0.69, yMax: 14.69, yStep: 2, yDigits: 0, yWidth: 69, padRight: 11.7, titleTop: 4.1, yTitle: "MIMICS SOC (kg m⁻²)" });
makePanel({ id: "panel-b", letter: "B", best: bestB, ensemble: ensembleB,
    yMin: -0.69, yMax: 14.69, yStep: 2, yDigits: 0, yWidth: 84, padRight: 0.7, titleTop: 18.1, yTitle: "MIMICS Protected SOC (kg m⁻²)" });
makePanel({ id: "panel-c", letter: "C", best: bestC, ensemble: ensembleC,
    yMin: -0.163, yMax: 3.453, yStep: 0.5, yDigits: 1, yWidth: 69, padRight: 11.7, titleTop: 3.7, yTitle: "MIMICS Litter C (kg m⁻²)" });
makePanel({ id: "panel-d", letter: "D", best: bestD, ensemble: ensembleD,
    yMin: -24.7, yMax: 525, yStep: 100, yDigits: 0, yWidth: 84, padRight: 0.7, titleTop: 16.1, yTitle: "SOMp Turnover (yr)" });
makePanel({ id: "panel-e", letter: "E", best: bestE, ensemble: ensembleE, xLabels: true,
    yMin: -0.038, yMax: 0.841, yStep: 0.2, yDigits: 1, yWidth: 69, padRight: 11.7, titleTop: 2.7, yTitle: "MIMICS Microbial C (kg m⁻²)" });
makePanel({ id: "panel-f", letter: "F", best: bestF, ensemble: ensembleF, xLabels: true,
    yMin: -0.19, yMax: 4.215, yStep: 1, yDigits: 0, yWidth: 84, padRight: 0.7, titleTop: 17.7, yTitle: "MICr:MICK C Pool Size" });
</script>
</body>
</html>
